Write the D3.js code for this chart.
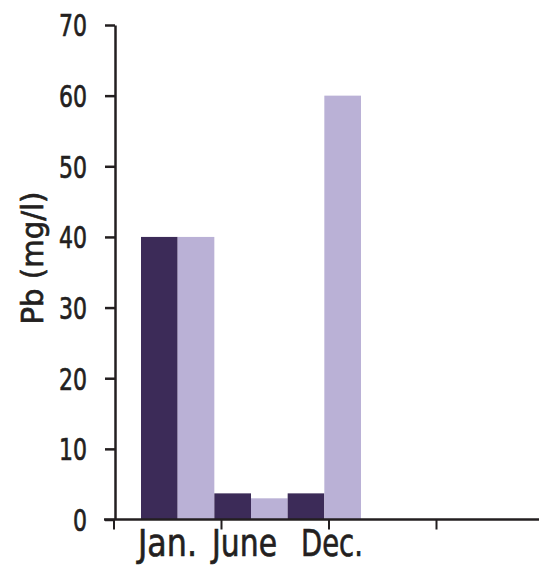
<!DOCTYPE html>
<html>
<head>
<meta charset="utf-8">
<script src="https://cdn.jsdelivr.net/npm/d3@7"></script>
<style>
  body { margin: 0; background: #fff; }
  text { font-family: "DejaVu Sans", sans-serif; fill: #231f20; stroke: #231f20; stroke-width: 0.7px; }
</style>
</head>
<body>
<div id="chart"></div>
<script>
// data
const months = ["Jan.", "June", "Dec."];
const seriesDark = [40, 3.7, 3.7];
const seriesLight = [40, 3, 60];
const yTicks = [0, 10, 20, 30, 40, 50, 60, 70];
const xTickSlots = [0, 1, 2, 3];

const width = 539, height = 565;

const svg = d3.select("#chart")
    .append("svg")
    .attr("width", width)
    .attr("height", height);

// scales
const y = d3.scaleLinear().domain([0, 70]).range([519.5, 25]);

const xCat = d3.scaleBand().domain(months).range([141, 361]).padding(0);
const xSeries = d3.scaleBand().domain(["dark", "light"]).range([0, xCat.bandwidth()]).padding(0);

// tick slots along the x axis
const xSlot = d3.scaleLinear().domain([0, 4]).range([114, 544]);

const colors = {dark: "#3c2b58", light: "#bab1d6"};

// bars
const rows = months.map((m, i) => ({month: m, dark: seriesDark[i], light: seriesLight[i]}));

const groups = svg.append("g").selectAll("g")
    .data(rows)
    .join("g")
    .attr("transform", d => `translate(${xCat(d.month)},0)`);

groups.selectAll("rect")
    .data(d => ["dark", "light"].map(k => ({key: k, value: d[k]})))
    .join("rect")
    .attr("x", d => xSeries(d.key))
    .attr("width", xSeries.bandwidth())
    .attr("y", d => y(d.value))
    .attr("height", d => y(0) - y(d.value))
    .attr("fill", d => colors[d.key]);

// y axis
const yAxis = svg.append("g")
    .attr("transform", "translate(115,0)")
    .call(d3.axisLeft(y).tickValues(yTicks).tickSize(10).tickPadding(18).tickSizeOuter(0));
yAxis.attr("font-family", null).attr("font-size", null);
yAxis.select(".domain").attr("stroke", "#231f20").attr("stroke-width", 2.5);
yAxis.selectAll(".tick line").attr("stroke", "#231f20").attr("stroke-width", 2.5);
yAxis.selectAll(".tick text")
    .style("font-size", "30px")
    .attr("fill", "#231f20")
    .attr("dy", "0.36em")
    .attr("textLength", d => d === 0 ? 14 : 28)
    .attr("lengthAdjust", "spacingAndGlyphs");

// x axis line
svg.append("line")
    .attr("x1", 104).attr("x2", width)
    .attr("y1", y(0)).attr("y2", y(0))
    .attr("stroke", "#231f20").attr("stroke-width", 2.5);

svg.append("g").selectAll("line")
    .data(xTickSlots)
    .join("line")
    .attr("x1", d => xSlot(d)).attr("x2", d => xSlot(d))
    .attr("y1", y(0)).attr("y2", y(0) + 10)
    .attr("stroke", "#231f20").attr("stroke-width", 2);

// x labels: the original sets them as one run of text with spaces between
const labelWidths = [59, 65, 62];
const labelGaps = [0, 15, 24];
let cursor = 138;
const labelX = months.map((m, i) => {
    cursor += labelGaps[i];
    const x = cursor;
    cursor += labelWidths[i];
    return x;
});

svg.append("g").selectAll("text")
    .data(months)
    .join("text")
    .attr("x", (d, i) => labelX[i])
    .attr("y", 556)
    .style("font-size", "38px")
    .attr("textLength", (d, i) => labelWidths[i])
    .attr("lengthAdjust", "spacingAndGlyphs")
    .text(d => d);

// y axis label
svg.append("text")
    .attr("transform", "translate(43,258) rotate(-90)")
    .attr("text-anchor", "middle")
    .style("font-size", "31px")
    .attr("textLength", 133)
    .attr("lengthAdjust", "spacingAndGlyphs")
    .text("Pb (mg/l)");
</script>
</body>
</html>
